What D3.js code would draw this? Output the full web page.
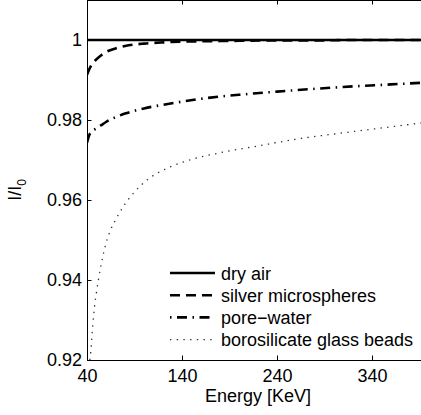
<!DOCTYPE html>
<html>
<head>
<meta charset="utf-8">
<script src="https://cdn.jsdelivr.net/npm/d3@7"></script>
<style>
  html, body { margin: 0; padding: 0; background: #fff; overflow: hidden; }
  svg { display: block; font-family: "Liberation Sans", Arial, Helvetica, sans-serif; }
</style>
</head>
<body>
<svg id="chart" width="421" height="415"></svg>
<script>
// Photon energy samples (keV) and transmitted fraction I/I0 for each medium
const energy = [40, 42, 45, 50, 55, 60, 70, 80, 100, 120, 140, 170, 200, 240, 280, 320, 360, 400];
const dryAir = [1, 1, 1, 1, 1, 1, 1, 1, 1, 1, 1, 1, 1, 1, 1, 1, 1, 1];
const silver = [0.9913, 0.9925, 0.9939, 0.9952, 0.9962, 0.9970, 0.9979, 0.9985, 0.9991, 0.9994, 0.9996, 0.9997, 0.9998, 0.9999, 0.9999, 1.0, 1.0, 1.0];
const poreWater = [0.9743, 0.9760, 0.9771, 0.9779, 0.9787, 0.9795, 0.9807, 0.9816, 0.9829, 0.9838, 0.9846, 0.9856, 0.9863, 0.9871, 0.9878, 0.9884, 0.9889, 0.9894];

const energyGlass = [43, 44, 46, 48, 50, 52, 55, 59, 64, 70, 80, 90, 103, 124, 148, 180, 220, 260, 300, 340, 400];
const glassBeads = [0.9200, 0.9222, 0.9285, 0.9335, 0.9370, 0.9400, 0.9440, 0.9483, 0.9520, 0.9550, 0.9590, 0.9620, 0.9650, 0.9679, 0.9700, 0.9718, 0.9735, 0.9752, 0.9765, 0.9777, 0.9795];

const xTicks = [40, 140, 240, 340];
const yTicks = [0.92, 0.94, 0.96, 0.98, 1];
const yTickLabels = ["0.92", "0.94", "0.96", "0.98", "1"];
const seriesNames = ["dry air", "silver microspheres", "pore\u2212water", "borosilicate glass beads"];

const svg = d3.select("#chart");
const plotLeft = 87, plotRight = 429, plotTop = 0, plotBottom = 360;

const x = d3.scaleLinear().domain([40, 400]).range([plotLeft, plotRight]);
const y = d3.scaleLinear().domain([0.92, 1.01]).range([plotBottom, plotTop]);

const styles = [
  { width: 2.6, dash: null, color: "#000" },
  { width: 2.6, dash: "10,6", color: "#000" },
  { width: 2.6, dash: "10,5.5,1.5,5.5", color: "#000" },
  { width: 1.3, dash: "1.4,5.3", color: "#333" }
];

const series = [
  { xs: energy, ys: dryAir },
  { xs: energy, ys: silver },
  { xs: energy, ys: poreWater },
  { xs: energyGlass, ys: glassBeads }
];

svg.append("defs").append("clipPath").attr("id", "plotClip")
  .append("rect").attr("x", plotLeft).attr("y", plotTop)
  .attr("width", plotRight - plotLeft).attr("height", plotBottom - plotTop);

const line = d3.line().curve(d3.curveMonotoneX);

const plot = svg.append("g").attr("clip-path", "url(#plotClip)");
series.forEach((s, i) => {
  const pts = s.xs.map((e, k) => [x(e), y(s.ys[k])]);
  plot.append("path")
    .attr("d", line(pts))
    .attr("fill", "none")
    .attr("stroke", styles[i].color)
    .attr("stroke-width", styles[i].width)
    .attr("stroke-dasharray", styles[i].dash);
});

// Axes box with inward ticks on all four sides
const tickLen = 4.5;
const axisStyle = g => {
  g.select(".domain").attr("stroke", "#000").attr("stroke-width", 1);
  g.selectAll(".tick line").attr("stroke", "#000").attr("stroke-width", 1);
  g.selectAll("text").attr("font-size", 18).attr("fill", "#000")
    .attr("font-family", "'Liberation Sans', Arial, Helvetica, sans-serif");
};

svg.append("g").attr("transform", `translate(0,${plotBottom})`)
  .call(d3.axisBottom(x).tickValues(xTicks).tickSizeInner(-tickLen).tickSizeOuter(0).tickPadding(9).tickFormat(d3.format("d")))
  .call(axisStyle);
svg.append("g").attr("transform", `translate(0,${plotTop})`)
  .call(d3.axisTop(x).tickValues(xTicks).tickSizeInner(-tickLen).tickSizeOuter(0).tickFormat(""))
  .call(axisStyle);
svg.append("g").attr("transform", `translate(${plotLeft},0)`)
  .call(d3.axisLeft(y).tickValues(yTicks).tickSizeInner(-tickLen).tickSizeOuter(0).tickPadding(5)
    .tickFormat((d, i) => yTickLabels[i]))
  .call(axisStyle);
svg.append("g").attr("transform", `translate(${plotRight},0)`)
  .call(d3.axisRight(y).tickValues(yTicks).tickSizeInner(-tickLen).tickSizeOuter(0).tickFormat(""))
  .call(axisStyle);

// Axis titles
svg.append("text")
  .attr("x", (plotLeft + plotRight) / 2).attr("y", 402)
  .attr("text-anchor", "middle").attr("font-size", 18)
  .text("Energy [KeV]");

const yl = svg.append("text")
  .attr("transform", `translate(21,190) rotate(-90)`)
  .attr("text-anchor", "middle").attr("font-size", 18);
yl.append("tspan").text("I/I");
yl.append("tspan").attr("font-size", 12).attr("dy", 5).text("0");

// Legend (no frame)
const legX0 = 170, legX1 = 215, legY = 273, legStep = 22.2;
seriesNames.forEach((name, i) => {
  const ly = legY + i * legStep;
  svg.append("line")
    .attr("x1", legX0).attr("x2", legX1).attr("y1", ly).attr("y2", ly)
    .attr("stroke", styles[i].color)
    .attr("stroke-width", styles[i].width)
    .attr("stroke-dasharray", styles[i].dash)
    .attr("stroke-dashoffset", i === 2 ? 15.5 : 0);
  svg.append("text")
    .attr("x", 221).attr("y", ly + 6.5)
    .attr("font-size", 18)
    .text(name);
});
</script>
</body>
</html>
